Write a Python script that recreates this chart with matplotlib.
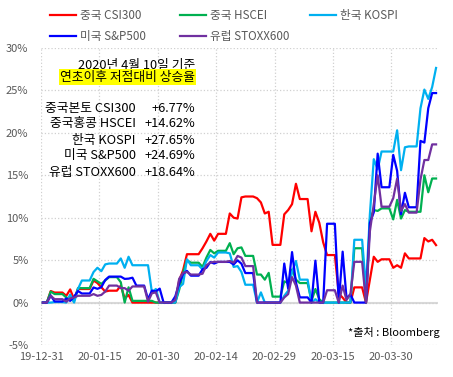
import pandas as pd
import matplotlib
matplotlib.use('Agg')
import matplotlib.pyplot as plt
import matplotlib.dates as mdates
from matplotlib.ticker import FuncFormatter

plt.rcParams['font.family'] = ['Noto Sans CJK KR', 'DejaVu Sans']

W, H = 453, 377

# calendar days, weekends / holidays keep the last close
dates = pd.date_range('2019-12-31', '2020-04-10', freq='D')

# rise from the year-to-date low, %  (first row Tue-Sun, then Mon..Sun weeks)
csi300 = [0, 0, 1.36, 1.18, 1.18, 1.18,
          0.80, 1.55, 0.38, 1.6, 1.6, 1.6, 1.6,
          2.6, 2.3, 1.8, 1.3, 1.4, 1.4, 1.4,
          2.0, 0.5, 0.9, 0, 0, 0, 0,
          0, 0, 0, 0, 0, 0, 0,
          0, 2.6, 3.8, 5.7, 5.7, 5.7, 5.7,
          6.4, 7.2, 8.1, 7.3, 8.1, 8.1, 8.1,
          10.5, 10.0, 9.9, 12.4, 12.5, 12.5, 12.5,
          12.3, 11.8, 10.5, 10.7, 6.8, 6.8, 6.8,
          10.4, 10.9, 11.6, 14.0, 12.2, 12.2, 12.2,
          8.4, 10.7, 9.4, 7.1, 5.6, 5.6, 5.6,
          1.07, 0.58, 0, 0, 1.79, 1.79, 1.79,
          0, 2.7, 5.4, 4.8, 5.1, 5.1, 5.1,
          4.1, 4.4, 4.1, 5.8, 5.2, 5.2, 5.2,
          5.2, 7.6, 7.2, 7.4, 6.77]

hscei = [0, 0, 1.3, 1.0, 1.0, 1.0,
         0.6, 0.4, 0.2, 1.7, 1.7, 1.7, 1.7,
         2.8, 2.5, 2.2, 2.6, 3.0, 3.0, 3.0,
         2.4, 0.0, 1.8, 0.2, 0.2, 0.2, 0.2,
         0.2, 0.2, 0, 0, 0, 0, 0,
         0, 1.5, 3.5, 5.0, 4.7, 4.7, 4.7,
         4.2, 5.3, 6.2, 5.8, 6.1, 6.1, 6.1,
         7.0, 5.7, 6.4, 6.5, 5.5, 5.5, 5.5,
         3.3, 3.3, 2.7, 3.5, 0.7, 0.7, 0.7,
         2.5, 2.3, 3.9, 2.7, 2.3, 2.3, 2.3,
         0.2, 1.6, 0.4, 0, 0, 0, 0,
         0, 0, 0, 0, 6.4, 6.4, 6.4,
         0, 9.8, 10.9, 10.8, 11.1, 11.1, 11.1,
         9.8, 12.1, 9.9, 10.9, 10.7, 10.7, 10.7,
         10.7, 15.0, 13.0, 14.62, 14.62]

kospi = [0, 0, 0, 0.06, 0.06, 0.06,
         0, 0.95, 0, 1.6, 2.6, 2.6, 2.6,
         3.6, 4.1, 3.7, 4.5, 4.6, 4.6, 4.6,
         5.2, 4.1, 5.4, 4.4, 4.4, 4.4, 4.4,
         4.4, 1.2, 1.6, 0, 0, 0, 0,
         0, 1.8, 2.2, 5.1, 4.4, 4.4, 4.4,
         3.9, 4.9, 5.6, 5.3, 5.9, 5.9, 5.9,
         5.8, 4.2, 4.3, 3.6, 2.1, 2.1, 2.1,
         0, 1.2, 0, 0, 0, 0, 0,
         0.8, 1.4, 3.6, 4.9, 2.7, 2.7, 2.7,
         0, 0.4, 0, 0, 0, 0, 0,
         0, 0, 0, 0, 7.4, 7.4, 7.4,
         1.7, 10.4, 16.9, 15.7, 17.8, 17.8, 17.8,
         17.8, 20.3, 15.6, 18.3, 18.4, 18.4, 18.4,
         22.9, 25.1, 24.0, 25.4, 27.65]

sp500 = [0, 0, 0.84, 0.13, 0.13, 0.13,
         0.48, 0.20, 0.69, 1.36, 1.07, 1.07, 1.07,
         1.78, 1.62, 1.81, 2.66, 3.06, 3.06, 3.06,
         3.06, 2.79, 2.82, 2.93, 2.00, 2.00, 2.00,
         0.40, 1.41, 1.32, 1.64, 0, 0, 0,
         0.73, 2.23, 3.38, 3.73, 3.17, 3.17, 3.17,
         3.92, 4.10, 4.77, 4.60, 4.79, 4.79, 4.79,
         4.79, 4.49, 4.98, 4.58, 3.48, 3.48, 3.48,
         0.01, 0, 0, 0, 0, 0, 0,
         4.60, 1.66, 5.95, 2.36, 0.61, 0.61, 0.61,
         0, 4.94, 0, 0, 9.29, 9.29, 9.29,
         0, 6.00, 0.50, 0.97, 0, 0, 0,
         0, 9.38, 10.64, 17.55, 13.59, 13.59, 13.59,
         17.40, 15.52, 10.42, 12.94, 11.23, 11.23, 11.23,
         19.05, 18.86, 22.91, 24.69, 24.69]

stoxx600 = [0, 0, 0.8, 0.4, 0.4, 0.4,
            0.1, 0.5, 0.6, 0.8, 0.8, 0.8, 0.8,
            1.0, 0.8, 0.9, 1.3, 2.0, 2.0, 2.0,
            1.7, 1.7, 1.4, 1.9, 1.9, 1.9, 1.9,
            0.1, 1.1, 1.2, 0, 0, 0, 0,
            0.3, 2.8, 3.5, 3.6, 3.3, 3.3, 3.3,
            3.4, 4.4, 4.7, 4.8, 4.8, 4.8, 4.8,
            4.9, 4.7, 5.5, 5.3, 4.3, 4.3, 4.3,
            0, 0, 0, 0, 0, 0, 0,
            0.6, 1.0, 3.0, 2.0, 0, 0, 0,
            0, 0, 0, 0, 1.45, 1.45, 1.45,
            0, 2.0, 0.3, 1.0, 4.8, 4.8, 4.8,
            0, 8.4, 11.6, 15.0, 11.3, 11.3, 11.3,
            12.3, 14.6, 10.8, 11.6, 10.6, 10.6, 10.6,
            14.5, 16.8, 16.8, 18.64, 18.64]

series = [csi300, hscei, kospi, sp500, stoxx600]
names = ['중국 CSI300', '중국 HSCEI', '한국 KOSPI', '미국 S&P500', '유럽 STOXX600']
colors = ['#FF0000', '#00B050', '#00B0F0', '#0000FF', '#7030A0']

box_names = ['중국본토 CSI300', '중국홍콩 HSCEI', '한국 KOSPI', '미국 S&P500', '유럽 STOXX600']
box_values = ['+6.77%', '+14.62%', '+27.65%', '+24.69%', '+18.64%']

tick_dates = pd.date_range('2019-12-31', periods=7, freq='15D')
y_ticks = [-5, 0, 5, 10, 15, 20, 25, 30]


def fx(x):
    return x / W


def fy(y):
    return 1 - y / H


fig = plt.figure(figsize=(W / 100, H / 100), dpi=100)
ax = fig.add_axes([fx(41), fy(345), fx(438) - fx(41), fy(48) - fy(345)])

# Excel date axis: each day sits in the middle of its slot
x0 = mdates.date2num(dates[0].to_pydatetime())
xs = mdates.date2num(dates.to_pydatetime()) + 0.5

lines = []
for vals, name, col in zip(series, names, colors):
    ln, = ax.plot(xs, vals, color=col, lw=1.6, label=name, zorder=3)
    lines.append(ln)

ax.axhline(0, color='#D9D9D9', lw=1.5, zorder=1)

ax.set_xlim(x0, x0 + 102)
ax.set_ylim(-5, 30)
ax.set_xticks(mdates.date2num(tick_dates.to_pydatetime()))
ax.xaxis.set_major_formatter(mdates.DateFormatter('%y-%m-%d'))
ax.set_yticks(y_ticks)
ax.yaxis.set_major_formatter(FuncFormatter(lambda v, p: f'{v:.0f}%'))
ax.grid(True, linestyle=':', color='#D0D0D0', lw=0.9, zorder=0)
for s in ax.spines.values():
    s.set_visible(False)
ax.tick_params(axis='both', length=0, labelsize=8, colors='#595959')
ax.tick_params(axis='y', pad=9)
ax.tick_params(axis='x', pad=5)

# legend: Excel uses fixed-width columns, so one small legend per column
columns = [[0, 3], [1, 4], [2]]
col_x = [50, 180, 310]
for idx, cx in zip(columns, col_x):
    fig.legend([lines[i] for i in idx], [names[i] for i in idx],
               loc='upper left', bbox_to_anchor=(fx(cx), fy(9)),
               frameon=False, fontsize=8.4, handlelength=2.2, handletextpad=0.4,
               labelspacing=0.7, borderaxespad=0, borderpad=0,
               labelcolor='#595959')

# text box on the upper left
fs = 9.2
fig.text(fx(195), fy(65), '2020년 4월 10일 기준', ha='right', va='center', fontsize=fs)
fig.text(fx(195), fy(77), '연초이후 저점대비 상승율', ha='right', va='center', fontsize=fs,
         bbox=dict(facecolor='#FFFF00', edgecolor='none', pad=1.0))
for i, (n, v) in enumerate(zip(box_names, box_values)):
    y = 108 + 16 * i
    fig.text(fx(136), fy(y), n, ha='right', va='center', fontsize=fs)
    fig.text(fx(195), fy(y), v, ha='right', va='center', fontsize=fs)

fig.text(fx(440), fy(333), '*출처 : Bloomberg', ha='right', va='center', fontsize=8)

fig.savefig('out.png', dpi=100)
